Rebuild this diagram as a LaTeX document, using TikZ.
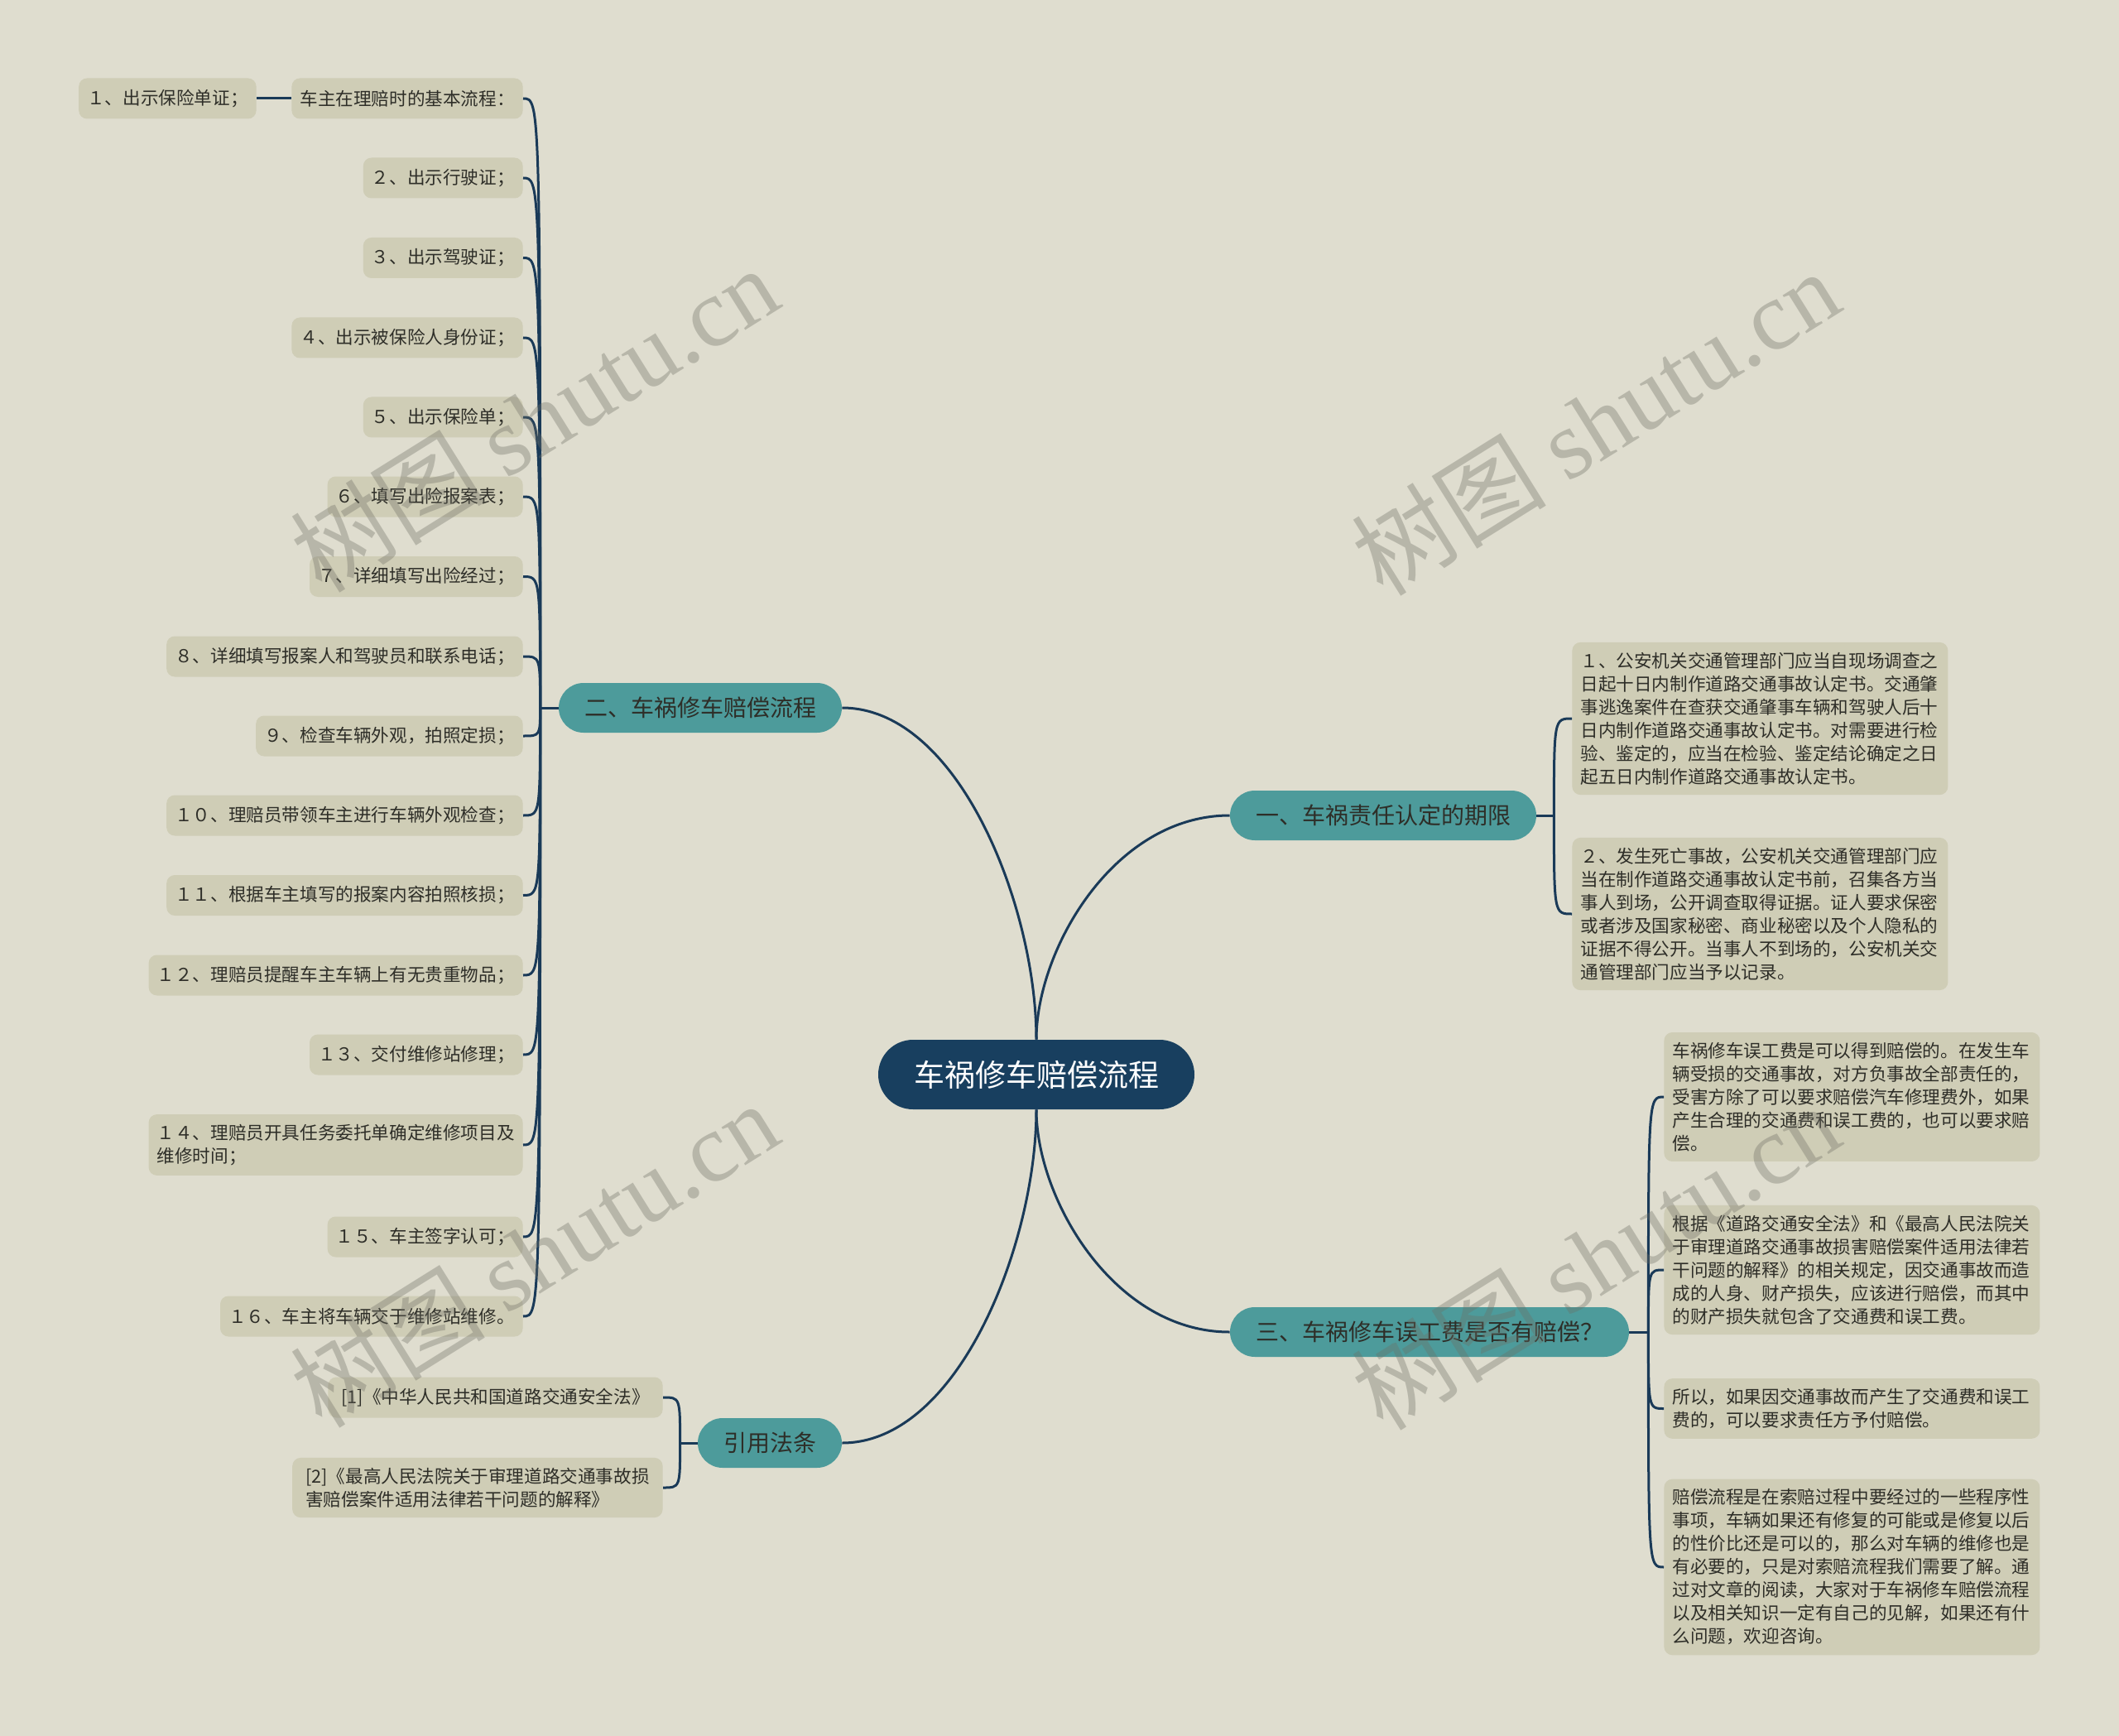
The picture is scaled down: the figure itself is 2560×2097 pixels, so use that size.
\documentclass[tikz,border=0pt]{standalone}
\usepackage{fontspec}
\setmainfont{Noto Sans CJK SC}
\newfontfamily\wmlatin{Liberation Serif}
\usetikzlibrary{calc}
\definecolor{bgc}{RGB}{223,221,207}
\definecolor{leafc}{RGB}{207,205,182}
\definecolor{tealc}{RGB}{77,155,155}
\definecolor{navyc}{RGB}{24,63,95}
\definecolor{linec}{RGB}{26,58,88}
\definecolor{textc}{RGB}{46,46,40}
\definecolor{wmc}{RGB}{110,110,100}
\begin{document}
\begin{tikzpicture}[x=0.5pt,y=-0.5pt,
  conn/.style={draw=linec,line width=1.5pt},
  leaf/.style={fill=leafc,rounded corners=5pt,inner xsep=5pt,inner ysep=6pt,minimum height=24.5pt,text=textc,font=\fontsize{10.8pt}{14pt}\selectfont,align=left},
  para/.style={leaf,text width=217pt},
  cite/.style={leaf,inner xsep=8pt},
  branch/.style={fill=tealc,rounded corners=15pt,inner xsep=15.5pt,inner ysep=0pt,minimum height=30pt,text=textc,font=\fontsize{14pt}{16pt}\selectfont},
  rootn/.style={fill=navyc,rounded corners=21pt,inner xsep=21.5pt,inner ysep=0pt,minimum height=42pt,text=white,font=\fontsize{18.5pt}{20pt}\selectfont},
  wm/.style={rotate=32,text=wmc,opacity=0.35,font=\fontsize{59pt}{62pt}\selectfont}
]
\fill[bgc] (0,0) rectangle (2560,2097);
\useasboundingbox (0,0) rectangle (2560,2097);

% root and main branches
\node[rootn] (root) at (1252,1298) {车祸修车赔偿流程};
\node[branch] (b2) at (846,855) {二、车祸修车赔偿流程};
\node[branch] (b1) at (1671,985) {一、车祸责任认定的期限};
\node[branch] (b3) at (1727,1609) {三、车祸修车误工费是否有赔偿？};
\node[branch] (b4) at (930,1743) {引用法条};

% left leaves
\node[leaf,anchor=east] (L0) at (632,119) {车主在理赔时的基本流程：};
\node[leaf,anchor=east] (L1) at (310,119) {１、出示保险单证；};
\node[leaf,anchor=east] (L2) at (632,215) {２、出示行驶证；};
\node[leaf,anchor=east] (L3) at (632,311.5) {３、出示驾驶证；};
\node[leaf,anchor=east] (L4) at (632,408) {４、出示被保险人身份证；};
\node[leaf,anchor=east] (L5) at (632,504) {５、出示保险单；};
\node[leaf,anchor=east] (L6) at (632,600) {６、填写出险报案表；};
\node[leaf,anchor=east] (L7) at (632,696.5) {７、详细填写出险经过；};
\node[leaf,anchor=east] (L8) at (632,793) {８、详细填写报案人和驾驶员和联系电话；};
\node[leaf,anchor=east] (L9) at (632,889) {９、检查车辆外观，拍照定损；};
\node[leaf,anchor=east] (L10) at (632,985) {１０、理赔员带领车主进行车辆外观检查；};
\node[leaf,anchor=east] (L11) at (632,1081.5) {１１、根据车主填写的报案内容拍照核损；};
\node[leaf,anchor=east] (L12) at (632,1178) {１２、理赔员提醒车主车辆上有无贵重物品；};
\node[leaf,anchor=east] (L13) at (632,1274) {１３、交付维修站修理；};
\node[leaf,anchor=east] (L14) at (632,1383) {１４、理赔员开具任务委托单确定维修项目及\\维修时间；};
\node[leaf,anchor=east] (L15) at (632,1494) {１５、车主签字认可；};
\node[leaf,anchor=east] (L16) at (632,1590) {１６、车主将车辆交于维修站维修。};

% branch 1 children
\node[para,anchor=west] (R1) at (1899,868) {１、公安机关交通管理部门应当自现场调查之\\日起十日内制作道路交通事故认定书。交通肇\\事逃逸案件在查获交通肇事车辆和驾驶人后十\\日内制作道路交通事故认定书。对需要进行检\\验、鉴定的，应当在检验、鉴定结论确定之日\\起五日内制作道路交通事故认定书。};
\node[para,anchor=west] (R2) at (1899,1104) {２、发生死亡事故，公安机关交通管理部门应\\当在制作道路交通事故认定书前，召集各方当\\事人到场，公开调查取得证据。证人要求保密\\或者涉及国家秘密、商业秘密以及个人隐私的\\证据不得公开。当事人不到场的，公安机关交\\通管理部门应当予以记录。};

% branch 3 children
\node[para,anchor=west] (S1) at (2010,1325) {车祸修车误工费是可以得到赔偿的。在发生车\\辆受损的交通事故，对方负事故全部责任的，\\受害方除了可以要求赔偿汽车修理费外，如果\\产生合理的交通费和误工费的，也可以要求赔\\偿。};
\node[para,anchor=west] (S2) at (2010,1534) {根据《道路交通安全法》和《最高人民法院关\\于审理道路交通事故损害赔偿案件适用法律若\\干问题的解释》的相关规定，因交通事故而造\\成的人身、财产损失，应该进行赔偿，而其中\\的财产损失就包含了交通费和误工费。};
\node[para,anchor=west] (S3) at (2010,1701.5) {所以，如果因交通事故而产生了交通费和误工\\费的，可以要求责任方予付赔偿。};
\node[para,anchor=west] (S4) at (2010,1893) {赔偿流程是在索赔过程中要经过的一些程序性\\事项，车辆如果还有修复的可能或是修复以后\\的性价比还是可以的，那么对车辆的维修也是\\有必要的，只是对索赔流程我们需要了解。通\\过对文章的阅读，大家对于车祸修车赔偿流程\\以及相关知识一定有自己的见解，如果还有什\\么问题，欢迎咨询。};

% branch 4 children
\node[cite,anchor=east] (C1) at (801,1688) {[1]《中华人民共和国道路交通安全法》};
\node[cite,anchor=east] (C2) at (801,1797) {[2]《最高人民法院关于审理道路交通事故损\\害赔偿案件适用法律若干问题的解释》};

% root connectors
\draw[conn] (root.north) .. controls ($(root.north)!0.4!(root.north |- b2.east)$) and ($(b2.east)!0.6!(root.north |- b2.east)$) .. (b2.east);
\draw[conn] (root.north) .. controls ($(root.north)!0.4!(root.north |- b1.west)$) and ($(b1.west)!0.6!(root.north |- b1.west)$) .. (b1.west);
\draw[conn] (root.south) .. controls ($(root.south)!0.4!(root.south |- b3.west)$) and ($(b3.west)!0.6!(root.south |- b3.west)$) .. (b3.west);
\draw[conn] (root.south) .. controls ($(root.south)!0.4!(root.south |- b4.east)$) and ($(b4.east)!0.6!(root.south |- b4.east)$) .. (b4.east);

% branch junctions
\coordinate (j2) at ($(b2.west)+(-22,0)$);
\coordinate (j1) at ($(b1.east)+(21,0)$);
\coordinate (j3) at ($(b3.east)+(23,0)$);
\coordinate (j4) at ($(b4.west)+(-21,0)$);
\draw[conn] (b2.west) -- (j2);
\draw[conn] (b1.east) -- (j1);
\draw[conn] (b3.east) -- (j3);
\draw[conn] (b4.west) -- (j4);

\foreach \n in {L0,L2,L3,L4,L5,L6,L7,L8,L9,L10,L11,L12,L13,L14,L15,L16}
  \draw[conn] (j2) .. controls (j2 |- \n.east) .. (\n.east);
\draw[conn] (L0.west) -- (L1.east);
\foreach \n in {R1,R2}
  \draw[conn] (j1) .. controls (j1 |- \n.west) .. (\n.west);
\foreach \n in {S1,S2,S3,S4}
  \draw[conn] (j3) .. controls (j3 |- \n.west) .. (\n.west);
\foreach \n in {C1,C2}
  \draw[conn] (j4) .. controls (j4 |- \n.east) .. (\n.east);

% watermarks
\node[wm] (w1) at (645,506) {树图 {\wmlatin shutu.cn}};
\node[wm] (w2) at (1927,510) {树图 {\wmlatin shutu.cn}};
\node[wm] (w3) at (645,1515) {树图 {\wmlatin shutu.cn}};
\node[wm] (w4) at (1927,1518) {树图 {\wmlatin shutu.cn}};
\end{tikzpicture}
\end{document}
